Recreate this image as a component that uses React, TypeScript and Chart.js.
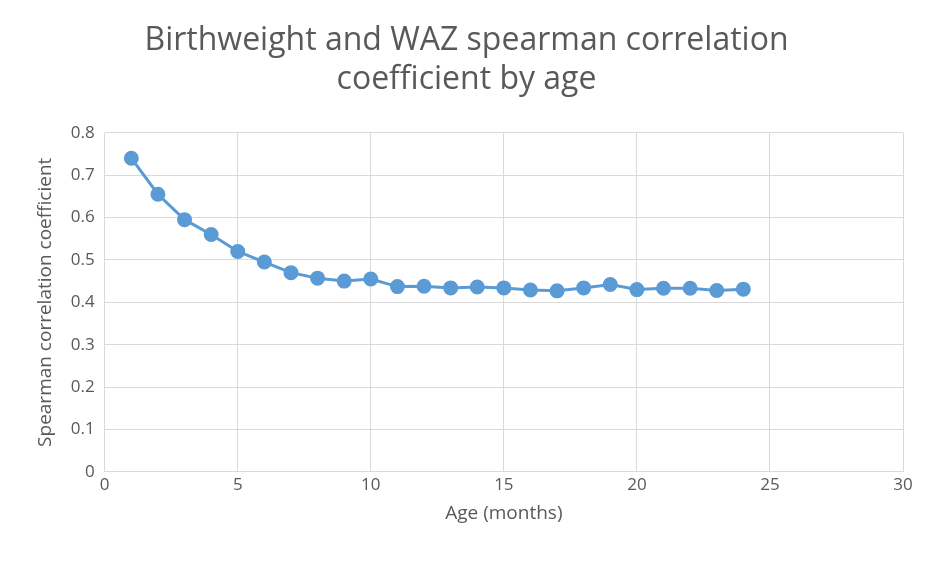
import { useEffect, useRef } from "react";
import Chart from "chart.js/auto";

const ages = [1, 2, 3, 4, 5, 6, 7, 8, 9, 10, 11, 12, 13, 14, 15, 16, 17, 18, 19, 20, 21, 22, 23, 24];
const coefficients = [
  0.74, 0.655, 0.595, 0.56, 0.52, 0.495, 0.47, 0.457, 0.45, 0.455, 0.437, 0.438,
  0.434, 0.436, 0.434, 0.429, 0.427, 0.434, 0.442, 0.43, 0.433, 0.433, 0.428, 0.431,
];
const chartTitle = ["Birthweight and WAZ spearman correlation", "coefficient by age"];

export default function App() {
  const canvasRef = useRef<HTMLCanvasElement | null>(null);

  useEffect(() => {
    document.body.style.margin = "0";
    if (!canvasRef.current) return;
    const font = "'Open Sans', 'Noto Sans', sans-serif";
    const chart = new Chart(canvasRef.current, {
      type: "line",
      data: {
        datasets: [
          {
            data: ages.map((a, i) => ({ x: a, y: coefficients[i] })),
            borderColor: "#5B9BD5",
            backgroundColor: "#5B9BD5",
            borderWidth: 3,
            pointRadius: 6,
            tension: 0,
          },
        ],
      },
      options: {
        animation: false,
        responsive: false,
        layout: { padding: { left: 30, right: 32, top: 10, bottom: 36 } },
        plugins: {
          legend: { display: false },
          tooltip: { enabled: false },
          title: {
            display: true,
            text: chartTitle,
            color: "#595959",
            font: { family: font, size: 32, weight: "normal" },
            padding: { top: 12, bottom: 34 },
            lineHeight: 1.35,
          },
        },
        scales: {
          x: {
            type: "linear",
            min: 0,
            max: 30,
            ticks: { stepSize: 5, color: "#595959", font: { family: font, size: 17 } },
            grid: { color: "#D9D9D9", drawTicks: false },
            border: { color: "#D9D9D9" },
            title: {
              display: true,
              text: "Age (months)",
              color: "#595959",
              font: { family: font, size: 19 },
            },
          },
          y: {
            min: 0,
            max: 0.8,
            ticks: { stepSize: 0.1, color: "#595959", font: { family: font, size: 17 }, padding: 10 },
            grid: { color: "#D9D9D9", drawTicks: false },
            border: { display: false },
            title: {
              display: true,
              text: "Spearman correlation coefficient",
              color: "#595959",
              font: { family: font, size: 19 },
            },
          },
        },
      },
    });
    return () => chart.destroy();
  }, []);

  return <canvas ref={canvasRef} width={935} height={565} style={{ display: "block", background: "#fff" }} />;
}
